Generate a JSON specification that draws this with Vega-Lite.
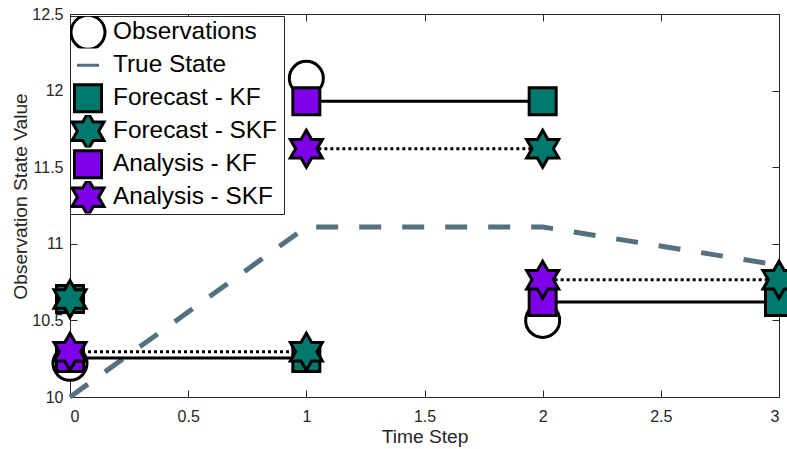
{
  "$schema": "https://vega.github.io/schema/vega-lite/v6.json",
  "width": 709,
  "height": 383,
  "autosize": "none",
  "padding": {"left": 70, "top": 14, "right": 8, "bottom": 52},
  "background": "white",
  "config": {
    "view": {"stroke": null},
    "font": "Liberation Sans",
    "axis": {
      "domainColor": "#262626", "tickColor": "#262626", "labelColor": "#262626", "titleColor": "#262626",
      "labelFont": "Liberation Sans", "titleFont": "Liberation Sans", "labelFontSize": 16, "titleFontSize": 19.2,
      "titleFontWeight": "normal", "tickSize": -7, "grid": false, "domainWidth": 1, "tickWidth": 1
    },
    "legend": {
      "orient": "none", "legendX": 0, "legendY": 2, "strokeColor": "#262626", "fillColor": "white",
      "padding": 0, "labelFont": "Liberation Sans", "labelFontSize": 24.4, "labelColor": "black",
      "symbolStrokeWidth": 3, "labelOffset": 5, "symbolOffset": -2, "clipHeight": 32.6, "rowPadding": 0,
      "labelLimit": 400
    }
  },
  "datasets": {
    "truth": [
      {"t": 0, "v": 10.0}, {"t": 1, "v": 11.11}, {"t": 2, "v": 11.11}, {"t": 3, "v": 10.86}
    ],
    "kf": [
      {"seg": 0, "t": 0, "v": 10.255}, {"seg": 0, "t": 1, "v": 10.255},
      {"seg": 1, "t": 1, "v": 11.93}, {"seg": 1, "t": 2, "v": 11.93},
      {"seg": 2, "t": 2, "v": 10.62}, {"seg": 2, "t": 3, "v": 10.62}
    ],
    "skf": [
      {"seg": 0, "t": 0, "v": 10.295}, {"seg": 0, "t": 1, "v": 10.295},
      {"seg": 1, "t": 1, "v": 11.62}, {"seg": 1, "t": 2, "v": 11.62},
      {"seg": 2, "t": 2, "v": 10.766}, {"seg": 2, "t": 3, "v": 10.766}
    ],
    "points": [
      {"series": "Observations", "t": 0, "v": 10.22},
      {"series": "Observations", "t": 1, "v": 12.08},
      {"series": "Observations", "t": 2, "v": 10.5},
      {"series": "Forecast - KF", "t": 0, "v": 10.64},
      {"series": "Forecast - KF", "t": 1, "v": 10.255},
      {"series": "Forecast - KF", "t": 2, "v": 11.93},
      {"series": "Forecast - KF", "t": 3, "v": 10.62},
      {"series": "Analysis - KF", "t": 0, "v": 10.255},
      {"series": "Analysis - KF", "t": 1, "v": 11.93},
      {"series": "Analysis - KF", "t": 2, "v": 10.62},
      {"series": "Forecast - SKF", "t": 0, "v": 10.64},
      {"series": "Forecast - SKF", "t": 1, "v": 10.295},
      {"series": "Forecast - SKF", "t": 2, "v": 11.62},
      {"series": "Forecast - SKF", "t": 3, "v": 10.766},
      {"series": "Analysis - SKF", "t": 0, "v": 10.295},
      {"series": "Analysis - SKF", "t": 1, "v": 11.62},
      {"series": "Analysis - SKF", "t": 2, "v": 10.766}
    ]
  },
  "layer": [
    {
      "data": {"name": "truth"},
      "mark": {"type": "line", "strokeWidth": 5, "strokeDash": [22, 21], "color": "#55707F", "clip": false},
      "encoding": {
        "x": {"field": "t", "type": "quantitative", "scale": {"domain": [0, 3], "nice": false, "zero": false},
              "axis": {"values": [0, 0.5, 1, 1.5, 2, 2.5, 3], "format": "~f", "title": "Time Step", "labelPadding": 18, "titlePadding": 3}},
        "y": {"field": "v", "type": "quantitative", "scale": {"domain": [10, 12.5], "nice": false, "zero": false},
              "axis": {"values": [10, 10.5, 11, 11.5, 12, 12.5], "format": "~f", "title": "Observation State Value", "labelPadding": 14, "titlePadding": 1, "titleY": 182}}
      }
    },
    {
      "data": {"name": "kf"},
      "mark": {"type": "line", "strokeWidth": 3, "color": "black"},
      "encoding": {
        "x": {"field": "t", "type": "quantitative", "axis": null},
        "y": {"field": "v", "type": "quantitative", "axis": null},
        "detail": {"field": "seg", "type": "nominal"}
      }
    },
    {
      "data": {"name": "skf"},
      "mark": {"type": "line", "strokeWidth": 3, "strokeDash": [3, 3], "color": "black"},
      "encoding": {
        "x": {"field": "t", "type": "quantitative", "axis": null},
        "y": {"field": "v", "type": "quantitative", "axis": null},
        "detail": {"field": "seg", "type": "nominal"}
      }
    },
    {
      "data": {"name": "points"},
      "mark": {"type": "point", "filled": false, "strokeWidth": 3, "opacity": 1, "fillOpacity": 1, "clip": false},
      "encoding": {
        "x": {"field": "t", "type": "quantitative", "axis": null},
        "y": {"field": "v", "type": "quantitative", "axis": null},
        "shape": {"field": "series", "type": "nominal",
          "scale": {"domain": ["Observations", "True State", "Forecast - KF", "Forecast - SKF", "Analysis - KF", "Analysis - SKF"],
                    "range": ["circle", "stroke", "square", "M0,-1L0.2887,-0.5L0.866,-0.5L0.577,0L0.866,0.5L0.2887,0.5L0,1L-0.2887,0.5L-0.866,0.5L-0.577,0L-0.866,-0.5L-0.2887,-0.5Z", "square", "M0,-1L0.2887,-0.5L0.866,-0.5L0.577,0L0.866,0.5L0.2887,0.5L0,1L-0.2887,0.5L-0.866,0.5L-0.577,0L-0.866,-0.5L-0.2887,-0.5Z"]},
          "legend": {"title": " ", "titleOrient": "right", "titleFontSize": 10, "titlePadding": 7}},
        "fill": {"field": "series", "type": "nominal",
          "scale": {"domain": ["Observations", "True State", "Forecast - KF", "Forecast - SKF", "Analysis - KF", "Analysis - SKF"],
                    "range": ["white", "#55707F", "#00786C", "#00786C", "#7E00E8", "#7E00E8"]},
          "legend": {"title": " "}},
        "stroke": {"field": "series", "type": "nominal",
          "scale": {"domain": ["Observations", "True State", "Forecast - KF", "Forecast - SKF", "Analysis - KF", "Analysis - SKF"],
                    "range": ["black", "#55707F", "black", "black", "black", "black"]},
          "legend": {"title": " "}},
        "size": {"field": "series", "type": "nominal",
          "scale": {"type": "ordinal", "domain": ["Observations", "True State", "Forecast - KF", "Forecast - SKF", "Analysis - KF", "Analysis - SKF"],
                    "range": [1156, 484, 729, 1369, 729, 1369]},
          "legend": {"title": " "}}
      }
    },
    {
      "data": {"name": "truth"},
      "mark": {"type": "point", "opacity": 0},
      "encoding": {
        "x": {"field": "t", "type": "quantitative",
              "axis": {"orient": "top", "values": [0, 0.5, 1, 1.5, 2, 2.5, 3], "labels": false, "title": null}},
        "y": {"field": "v", "type": "quantitative",
              "axis": {"orient": "right", "values": [10, 10.5, 11, 11.5, 12, 12.5], "labels": false, "title": null}}
      }
    }
  ],
  "resolve": {"axis": {"x": "independent", "y": "independent"}}
}
